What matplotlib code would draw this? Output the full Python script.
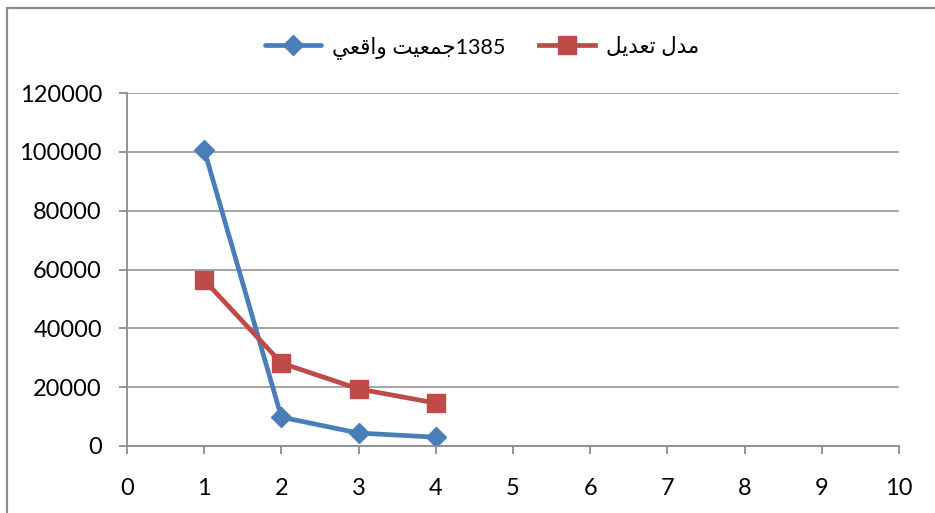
import matplotlib
matplotlib.use("Agg")
import matplotlib.pyplot as plt
from matplotlib.patches import Rectangle

# data
x_vals = [1, 2, 3, 4]
actual_1385 = [100700, 9800, 4400, 3000]
model_fit = [56400, 28200, 19400, 14600]

# Arabic labels in visual (shaped) order, matplotlib has no bidi/shaping
label_actual = "\uFEF2\uFECC\uFED7\uFE8D\uFEED \uFE96\uFEF4\uFECC\uFEE4\uFE9F1385"  # 1385جمعيت واقعي
label_model = "\uFEDE\uFEF3\uFEAA\uFECC\uFE97 \uFEDD\uFEAA\uFEE3"  # مدل تعديل

x_ticks = list(range(0, 11))
y_ticks = list(range(0, 120001, 20000))

fonts = ['Lato', 'DejaVu Sans']
plt.rcParams['font.family'] = fonts

fig = plt.figure(figsize=(9.35, 5.13), dpi=100)
ax = fig.add_axes([127 / 935, 1 - 446 / 513, (899 - 127) / 935, (446 - 93) / 513])

# outer chart border (cut off at right and bottom like the reference)
fig.patches.append(Rectangle((7 / 935, -0.05), 1.0, 1 - 8 / 513 + 0.05,
                             transform=fig.transFigure, fill=False,
                             edgecolor='#8c8c8c', linewidth=1.6))

ax.plot(x_vals, actual_1385, color='#4A7EBB', linewidth=3.4, marker='D',
        markersize=10, label=label_actual, solid_capstyle='round')
ax.plot(x_vals, model_fit, color='#BE4B48', linewidth=3.4, marker='s',
        markersize=13, label=label_model)

ax.set_xlim(0, 10)
ax.set_ylim(0, 120000)
ax.set_xticks(x_ticks)
ax.set_yticks(y_ticks)
ax.yaxis.grid(True, color='#8c8c8c', linewidth=1.1)
ax.set_axisbelow(True)

for side in ['top', 'right']:
    ax.spines[side].set_visible(False)
for side in ['left', 'bottom']:
    ax.spines[side].set_color('#8c8c8c')
    ax.spines[side].set_linewidth(1.3)

ax.tick_params(axis='x', length=6, width=1.3, color='#8c8c8c', pad=17,
               labelsize=17, labelcolor='black')
ax.tick_params(axis='y', length=6, width=1.3, color='#8c8c8c', pad=12,
               labelsize=17, labelcolor='black')

leg = ax.legend(loc='center', bbox_to_anchor=(0.46, 1.13), ncol=2, frameon=False,
                fontsize=15.5, handlelength=2.6, columnspacing=1.6, handletextpad=0.5)

plt.savefig("out.png", dpi=100)
